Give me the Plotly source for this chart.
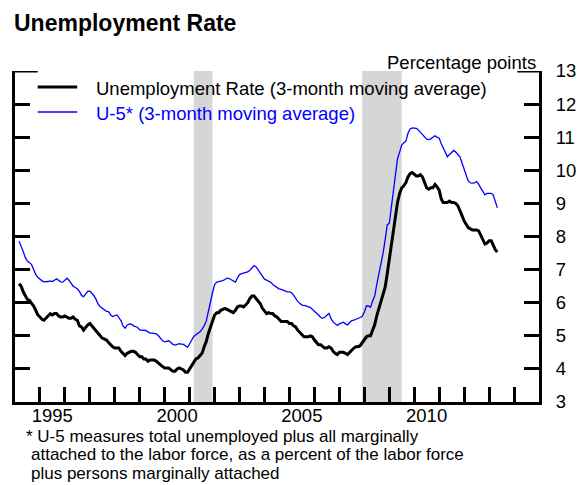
import pandas as pd
import plotly.graph_objects as go

# ---------------- data ----------------
start_month = "1994-03-01"   # first 3-month average plotted

unemp_rate = [
    6.57, 6.50, 6.33, 6.20, 6.10, 6.07, 6.00, 5.90, 5.77, 5.63,                  # 1994 Mar-Dec
    5.57, 5.50, 5.47, 5.53, 5.60, 5.67, 5.63, 5.67, 5.67, 5.60, 5.57, 5.57,      # 1995
    5.60, 5.57, 5.53, 5.53, 5.57, 5.50, 5.47, 5.30, 5.27, 5.17, 5.27, 5.33,      # 1996
    5.37, 5.30, 5.23, 5.17, 5.07, 5.00, 4.93, 4.90, 4.87, 4.80, 4.73, 4.67,      # 1997
    4.63, 4.63, 4.63, 4.53, 4.47, 4.40, 4.47, 4.50, 4.53, 4.53, 4.50, 4.43,      # 1998
    4.37, 4.37, 4.30, 4.30, 4.23, 4.27, 4.27, 4.27, 4.23, 4.17, 4.13, 4.07,      # 1999
    4.03, 4.03, 4.03, 3.97, 3.93, 3.93, 4.00, 4.03, 4.00, 3.97, 3.90, 3.90,      # 2000
    4.00, 4.10, 4.23, 4.30, 4.33, 4.40, 4.47, 4.67, 4.83, 5.07, 5.27, 5.50,      # 2001
    5.63, 5.70, 5.70, 5.77, 5.80, 5.83, 5.80, 5.77, 5.73, 5.70, 5.77, 5.87,      # 2002
    5.90, 5.90, 5.87, 5.93, 6.00, 6.13, 6.20, 6.20, 6.13, 6.07, 5.97, 5.83,      # 2003
    5.73, 5.67, 5.70, 5.67, 5.67, 5.60, 5.57, 5.50, 5.43, 5.43, 5.43, 5.43,      # 2004
    5.37, 5.37, 5.30, 5.27, 5.17, 5.10, 5.03, 4.97, 4.97, 4.97, 5.00, 4.97,      # 2005
    4.87, 4.80, 4.73, 4.73, 4.67, 4.63, 4.63, 4.67, 4.63, 4.53, 4.47, 4.43,      # 2006
    4.50, 4.50, 4.50, 4.47, 4.43, 4.50, 4.57, 4.63, 4.67, 4.67, 4.70, 4.80,      # 2007
    4.90, 4.97, 5.00, 5.00, 5.17, 5.33, 5.60, 5.83, 6.00, 6.23, 6.47, 6.87,      # 2008
    7.30, 7.80, 8.27, 8.67, 9.03, 9.30, 9.47, 9.53, 9.63, 9.80, 9.90, 9.93,      # 2009
    9.87, 9.83, 9.83, 9.87, 9.80, 9.63, 9.47, 9.43, 9.47, 9.47, 9.57, 9.50,      # 2010
    9.40, 9.13, 9.03, 9.03, 9.03, 9.07, 9.03, 9.03, 9.00, 8.93, 8.80, 8.63,      # 2011
    8.47, 8.37, 8.27, 8.23, 8.20, 8.20, 8.20, 8.17, 8.03, 7.90, 7.77, 7.80,      # 2012
    7.87, 7.87, 7.73, 7.60, 7.53,                                                # 2013 Jan-May
]

u5_rate = [
    7.86, 7.72, 7.55, 7.36, 7.26, 7.21, 7.15, 7.00, 6.85, 6.77,                  # 1994 Mar-Dec
    6.70, 6.66, 6.63, 6.63, 6.64, 6.66, 6.64, 6.68, 6.72, 6.68, 6.63, 6.62,      # 1995
    6.68, 6.74, 6.68, 6.58, 6.50, 6.46, 6.42, 6.34, 6.22, 6.18, 6.28, 6.34,      # 1996
    6.35, 6.28, 6.21, 6.10, 5.96, 5.88, 5.83, 5.78, 5.74, 5.73, 5.63, 5.58,      # 1997
    5.60, 5.63, 5.55, 5.46, 5.30, 5.23, 5.32, 5.36, 5.35, 5.30, 5.28, 5.25,      # 1998
    5.18, 5.17, 5.18, 5.16, 5.12, 5.08, 5.08, 5.07, 5.06, 5.00, 4.93, 4.85,      # 1999
    4.82, 4.84, 4.85, 4.80, 4.74, 4.72, 4.74, 4.76, 4.75, 4.74, 4.70, 4.65,      # 2000
    4.76, 4.87, 4.98, 5.03, 5.08, 5.12, 5.20, 5.30, 5.45, 5.75, 6.02, 6.30,      # 2001
    6.55, 6.62, 6.64, 6.65, 6.67, 6.70, 6.74, 6.73, 6.69, 6.65, 6.62, 6.75,      # 2002
    6.85, 6.88, 6.89, 6.90, 6.93, 6.98, 7.05, 7.12, 7.08, 6.99, 6.88, 6.78,      # 2003
    6.71, 6.68, 6.66, 6.62, 6.55, 6.50, 6.46, 6.42, 6.40, 6.37, 6.35, 6.33,      # 2004
    6.33, 6.30, 6.23, 6.12, 6.04, 5.98, 5.93, 5.92, 5.90, 5.88, 5.86, 5.80,      # 2005
    5.75, 5.70, 5.63, 5.56, 5.53, 5.56, 5.62, 5.68, 5.52, 5.42, 5.36, 5.31,      # 2006
    5.36, 5.40, 5.41, 5.36, 5.33, 5.40, 5.46, 5.47, 5.50, 5.53, 5.55, 5.58,      # 2007
    5.72, 5.90, 5.90, 5.86, 6.05, 6.20, 6.55, 6.85, 7.15, 7.49, 7.90, 8.35,      # 2008
    8.40, 8.90, 9.45, 10.00, 10.35, 10.55, 10.76, 10.83, 10.88, 11.12, 11.25, 11.28,  # 2009
    11.28, 11.27, 11.22, 11.15, 11.07, 10.98, 10.94, 10.93, 10.95, 11.00, 11.04, 11.00,  # 2010
    10.97, 10.80, 10.66, 10.52, 10.41, 10.48, 10.55, 10.60, 10.55, 10.48, 10.41, 10.22,  # 2011
    10.01, 9.85, 9.68, 9.62, 9.61, 9.62, 9.66, 9.58, 9.46, 9.35, 9.26, 9.30,     # 2012
    9.31, 9.30, 9.26, 9.05, 8.87,                                                # 2013 Jan-May
]

recession_starts = ["2001-03-01", "2007-12-01"]
recession_ends = ["2001-12-01", "2009-07-01"]

year_label_positions = ["1995-07-01", "2000-07-01", "2005-07-01", "2010-07-01"]
year_labels = ["1995", "2000", "2005", "2010"]

y_ticks = list(range(3, 14))

series_names = ["Unemployment Rate (3-month moving average)",
                "U-5* (3-month moving average)"]

footnote_lines = [
    "* U-5 measures total unemployed plus all marginally",
    "attached to the labor force, as a percent of the labor force",
    "plus persons marginally attached",
]

# ---------------- figure ----------------
dates = pd.date_range(start_month, periods=len(unemp_rate), freq="MS")

W, H = 588, 485
L, R, T, B = 12, 45, 71, 83
PW, PH = W - L - R, H - T - B

def px(x):
    return (x - L) / PW

def py(y):
    return (H - B - y) / PH

FONT = "Liberation Sans, Arial, sans-serif"
FS = 18.5
FS_NOTE = 17

fig = go.Figure()

fig.add_trace(go.Scatter(x=dates, y=u5_rate, mode="lines",
                         line=dict(color="#0000ff", width=1.3),
                         name=series_names[1], showlegend=False))
fig.add_trace(go.Scatter(x=dates, y=unemp_rate, mode="lines",
                         line=dict(color="#000000", width=3),
                         name=series_names[0], showlegend=False))
# invisible trace to carry the year labels axis
fig.add_trace(go.Scatter(x=[dates[0]], y=[None], xaxis="x2", yaxis="y",
                         showlegend=False, hoverinfo="skip"))

shapes = []
for s, e in zip(recession_starts, recession_ends):
    shapes.append(dict(type="rect", xref="x", yref="paper", x0=s, x1=e,
                       y0=0, y1=1, fillcolor="#d6d6d6", line=dict(width=0),
                       layer="below"))
# longer top ticks at 13
shapes.append(dict(type="line", xref="paper", yref="y", x0=0, x1=px(35), y0=13, y1=13,
                   line=dict(color="black", width=3)))
shapes.append(dict(type="line", xref="paper", yref="y", x0=px(521), x1=1, y0=13, y1=13,
                   line=dict(color="black", width=3)))
# legend samples
shapes.append(dict(type="line", xref="paper", yref="paper", x0=px(35), x1=px(75),
                   y0=py(87), y1=py(87), line=dict(color="black", width=3)))
shapes.append(dict(type="line", xref="paper", yref="paper", x0=px(35), x1=px(75),
                   y0=py(112), y1=py(112), line=dict(color="#0000ff", width=1.3)))

annotations = [
    dict(text="<b>Unemployment Rate</b>", x=px(10), y=py(23), xanchor="left", yanchor="middle",
         font=dict(size=23, color="black", family=FONT)),
    dict(text="Percentage points", x=px(541), y=py(63), xanchor="right", yanchor="middle",
         font=dict(size=FS, color="black", family=FONT)),
    dict(text=series_names[0], x=px(93), y=py(88.5), xanchor="left", yanchor="middle",
         font=dict(size=FS, color="black", family=FONT)),
    dict(text=series_names[1], x=px(93), y=py(113.5), xanchor="left", yanchor="middle",
         font=dict(size=FS, color="#0000ff", family=FONT)),
    dict(text=footnote_lines[0], x=px(22), y=py(436.5), xanchor="left", yanchor="middle",
         font=dict(size=FS_NOTE, color="black", family=FONT)),
    dict(text=footnote_lines[1], x=px(27), y=py(454.8), xanchor="left", yanchor="middle",
         font=dict(size=FS_NOTE, color="black", family=FONT)),
    dict(text=footnote_lines[2], x=px(27), y=py(473.3), xanchor="left", yanchor="middle",
         font=dict(size=FS_NOTE, color="black", family=FONT)),
]
for a in annotations:
    a.update(xref="paper", yref="paper", showarrow=False, borderpad=0)

fig.update_layout(
    width=W, height=H,
    margin=dict(l=L, r=R, t=T, b=B, pad=0),
    paper_bgcolor="white", plot_bgcolor="white",
    font=dict(family=FONT, size=FS, color="black"),
    showlegend=False,
    shapes=shapes,
    annotations=annotations,
    xaxis=dict(type="date", range=["1994-01-01", "2015-01-01"],
               tick0="1994-01-01", dtick="M12", ticks="inside", ticklen=15, tickwidth=3,
               tickcolor="black", showticklabels=False, showline=True, linewidth=3,
               linecolor="black", showgrid=False, zeroline=False, mirror=False),
    xaxis2=dict(type="date", overlaying="x", matches="x", side="bottom",
                tickmode="array", tickvals=year_label_positions, ticktext=year_labels,
                ticks="", showline=False, showgrid=False, zeroline=False,
                tickfont=dict(size=FS, family=FONT, color="black"),
                ticklabelstandoff=0),
    yaxis=dict(range=[3, 13], side="right", tickmode="array", tickvals=y_ticks,
               ticks="inside", ticklen=15, tickwidth=3, tickcolor="black",
               showline=True, linewidth=3, linecolor="black", mirror="ticks",
               showgrid=False, zeroline=False,
               tickfont=dict(size=FS, family=FONT, color="black"),
               ticklabelstandoff=10),
)

fig.write_html("out.html",
               config={"displayModeBar": False},
               post_script="document.body.style.margin='0px';"
                           "document.body.style.overflow='hidden';")
